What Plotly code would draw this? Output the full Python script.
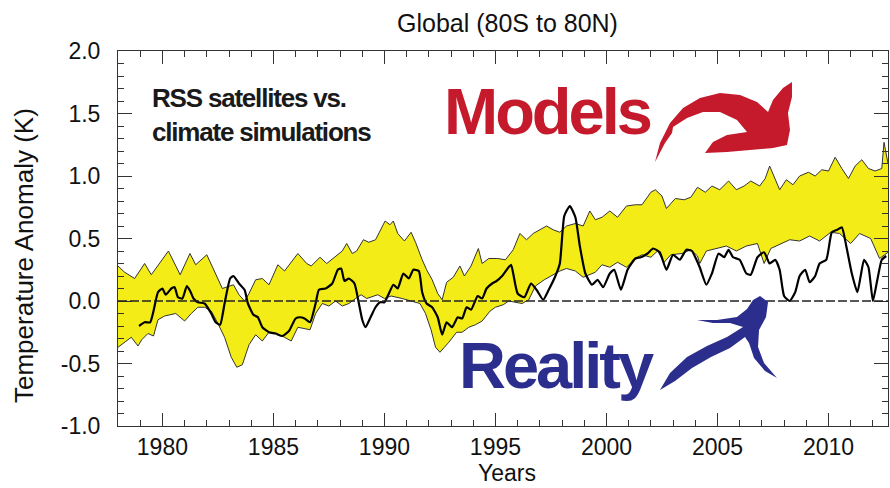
import plotly.graph_objects as go

# ---------------- data ----------------
upper_years = [1978.0, 1978.3, 1978.75, 1979.2, 1979.5, 1980.27, 1980.8, 1981.24, 1981.5, 1982.0,
               1982.7, 1983.2, 1983.45, 1983.7, 1983.9, 1984.2, 1984.5, 1984.8, 1985.2, 1985.5,
               1986.1, 1986.5, 1986.7, 1987.1, 1987.4, 1987.7, 1988.1, 1988.3, 1988.55, 1988.75,
               1989.05, 1989.3, 1989.6, 1989.8, 1990.03, 1990.25, 1990.4, 1990.6, 1990.9, 1991.2,
               1991.4, 1991.7, 1991.9, 1992.15, 1992.4, 1992.6, 1992.8, 1993.1, 1993.4, 1993.6,
               1993.9, 1994.23, 1994.4, 1994.7, 1995.1, 1995.45, 1995.8, 1996.1, 1996.4, 1996.7,
               1997.0, 1997.3, 1997.6, 1997.9, 1998.2, 1998.6, 1998.95, 1999.25, 1999.5, 1999.8,
               2000.15, 2000.5, 2000.9, 2001.3, 2001.6, 2002.0, 2002.2, 2002.5, 2002.7, 2003.1,
               2003.5, 2003.8, 2004.1, 2004.45, 2004.75, 2005.1, 2005.5, 2005.85, 2006.2, 2006.5,
               2006.9, 2007.15, 2007.35, 2007.6, 2007.8, 2008.1, 2008.4, 2008.7, 2009.1, 2009.4,
               2009.7, 2010.0, 2010.3, 2010.6, 2010.9, 2011.2, 2011.5, 2011.8, 2012.1, 2012.4,
               2012.5, 2012.68]
upper_vals = [0.28, 0.23, 0.18, 0.30, 0.21, 0.40, 0.21, 0.38, 0.29, 0.37,
              0.10, 0.13, 0.05, 0.00, 0.06, 0.17, 0.18, 0.13, 0.29, 0.24,
              0.38, 0.30, 0.28, 0.35, 0.30, 0.34, 0.40, 0.46, 0.38, 0.40,
              0.49, 0.47, 0.49, 0.56, 0.64, 0.61, 0.64, 0.54, 0.48, 0.55,
              0.47, 0.33, 0.25, 0.17, 0.06, 0.01, 0.15, 0.19, 0.28, 0.20,
              0.28, 0.42, 0.30, 0.34, 0.34, 0.33, 0.41, 0.54, 0.49, 0.54,
              0.57, 0.60, 0.57, 0.55, 0.60, 0.62, 0.60, 0.72, 0.65, 0.67,
              0.72, 0.67, 0.76, 0.77, 0.77, 0.87, 0.89, 0.84, 0.74, 0.82,
              0.81, 0.83, 0.91, 0.87, 0.92, 0.89, 0.96, 0.89, 0.92, 0.96,
              0.92, 0.98, 1.08, 0.98, 0.89, 0.97, 0.93, 1.00, 1.03, 1.00,
              1.05, 1.04, 1.15, 1.06, 0.98, 1.08, 1.13, 1.06, 1.04, 1.06,
              1.27, 1.10]

lower_years = [1978.0, 1978.3, 1978.6, 1978.9, 1979.07, 1979.35, 1979.6, 1979.8, 1980.1, 1980.6,
               1981.0, 1981.3, 1981.6, 1981.9, 1982.2, 1982.5, 1982.8, 1983.1, 1983.35, 1983.6,
               1983.9, 1984.2, 1984.5, 1984.8, 1985.1, 1985.5, 1985.8, 1986.1, 1986.4, 1986.65,
               1986.9, 1987.2, 1987.5, 1987.8, 1988.1, 1988.4, 1988.7, 1988.95, 1989.2, 1989.7,
               1990.0, 1990.3, 1990.8, 1991.2, 1991.6, 1991.85, 1992.1, 1992.3, 1992.5, 1992.7,
               1992.9, 1993.25, 1993.5, 1993.8, 1994.1, 1994.4, 1994.76, 1995.0, 1995.35, 1995.6,
               1996.2, 1996.5, 1996.8, 1997.2, 1997.6, 1997.9, 1998.2, 1998.6, 1998.95, 1999.5,
               1999.8, 2000.15, 2000.5, 2000.9, 2001.3, 2001.6, 2002.0, 2002.3, 2002.6, 2002.9,
               2003.4, 2003.8, 2004.1, 2004.2, 2004.5, 2005.0, 2005.4, 2005.85, 2006.3, 2006.8,
               2007.1, 2007.4, 2007.8, 2008.25, 2008.7, 2009.15, 2009.6, 2010.1, 2010.5, 2011.0,
               2011.4, 2011.9, 2012.3, 2012.68]
lower_vals = [-0.37, -0.33, -0.29, -0.36, -0.31, -0.26, -0.28, -0.15, -0.12, -0.10,
              -0.16, -0.10, -0.05, -0.05, -0.08, -0.18, -0.29, -0.45, -0.53, -0.51,
              -0.35, -0.27, -0.32, -0.25, -0.26, -0.29, -0.32, -0.21, -0.22, -0.23,
              -0.10, -0.02, -0.04, 0.00, -0.04, -0.02, 0.02, 0.05, 0.02, 0.05,
              0.02, 0.04, 0.02, 0.00, -0.02, -0.10, -0.23, -0.37, -0.41, -0.37,
              -0.33, -0.25, -0.25, -0.21, -0.19, -0.16, -0.08, -0.05, -0.03, 0.00,
              -0.02, 0.01, 0.12, 0.17, 0.21, 0.24, 0.26, 0.24, 0.19, 0.23,
              0.29, 0.27, 0.31, 0.27, 0.34, 0.37, 0.35, 0.40, 0.31, 0.37,
              0.38, 0.41, 0.36, 0.30, 0.40, 0.42, 0.44, 0.40, 0.44, 0.46,
              0.30, 0.42, 0.45, 0.49, 0.48, 0.52, 0.48, 0.55, 0.54, 0.46,
              0.54, 0.50, 0.34, 0.39]

rss_years = [1978.95, 1979.2, 1979.45, 1979.6, 1979.8, 1980.0, 1980.15, 1980.4, 1980.55, 1980.7,
             1980.9, 1981.1, 1981.25, 1981.4, 1981.6, 1981.9, 1982.2, 1982.4, 1982.6, 1982.8,
             1983.05, 1983.2, 1983.45, 1983.7, 1983.85, 1984.1, 1984.3, 1984.5, 1984.8, 1985.1,
             1985.4, 1985.7, 1986.0, 1986.2, 1986.4, 1986.65, 1986.9, 1987.05, 1987.35, 1987.65,
             1987.9, 1988.05, 1988.2, 1988.4, 1988.65, 1988.85, 1989.0, 1989.15, 1989.4, 1989.6,
             1989.8, 1990.0, 1990.2, 1990.4, 1990.6, 1990.85, 1991.1, 1991.3, 1991.55, 1991.7,
             1991.9, 1992.15, 1992.4, 1992.6, 1992.8, 1993.05, 1993.3, 1993.5, 1993.7, 1993.9,
             1994.2, 1994.4, 1994.6, 1994.85, 1995.05, 1995.3, 1995.7, 1995.8, 1996.0, 1996.3,
             1996.6, 1996.85, 1997.15, 1997.4, 1997.7, 1997.9, 1998.1, 1998.35, 1998.6, 1998.8,
             1999.05, 1999.35, 1999.6, 1999.85, 2000.15, 2000.35, 2000.65, 2000.95, 2001.3, 2001.55,
             2001.85, 2002.1, 2002.4, 2002.7, 2003.0, 2003.3, 2003.6, 2003.85, 2004.0, 2004.2,
             2004.5, 2004.75, 2005.05, 2005.3, 2005.5, 2005.7, 2006.0, 2006.3, 2006.5, 2006.8,
             2007.1, 2007.35, 2007.6, 2007.8, 2008.0, 2008.25, 2008.5, 2008.7, 2008.95, 2009.15,
             2009.4, 2009.6, 2009.9, 2010.15, 2010.4, 2010.6, 2010.8, 2011.05, 2011.3, 2011.45,
             2011.6, 2011.8, 2012.0, 2012.2, 2012.4, 2012.6]
rss_vals = [-0.20, -0.17, -0.17, -0.08, 0.07, 0.10, 0.05, 0.10, 0.11, 0.03,
            0.02, 0.12, 0.08, 0.02, -0.01, -0.02, -0.10, -0.17, -0.19, -0.02,
            0.18, 0.20, 0.14, 0.09, -0.02, -0.11, -0.13, -0.21, -0.25, -0.26,
            -0.28, -0.24, -0.14, -0.13, -0.14, -0.17, -0.02, 0.09, 0.10, 0.14,
            0.25, 0.26, 0.16, 0.18, 0.14, -0.02, -0.15, -0.21, -0.12, -0.05,
            -0.01, -0.01, 0.06, 0.13, 0.10, 0.22, 0.18, 0.25, 0.24, 0.07,
            -0.02, -0.05, -0.13, -0.27, -0.17, -0.21, -0.13, -0.14, -0.05, -0.07,
            0.04, 0.02, 0.10, 0.14, 0.16, 0.20, 0.29, 0.22, 0.06, 0.03,
            0.14, 0.09, 0.01, 0.09, 0.20, 0.30, 0.68, 0.76, 0.67, 0.44,
            0.22, 0.13, 0.17, 0.11, 0.22, 0.25, 0.09, 0.25, 0.34, 0.35,
            0.38, 0.42, 0.39, 0.25, 0.37, 0.33, 0.41, 0.40, 0.35, 0.27,
            0.13, 0.22, 0.38, 0.35, 0.41, 0.35, 0.33, 0.22, 0.21, 0.35,
            0.39, 0.30, 0.33, 0.25, 0.04, 0.00, 0.07, 0.20, 0.25, 0.15,
            0.20, 0.30, 0.33, 0.55, 0.57, 0.59, 0.44, 0.22, 0.07, 0.20,
            0.33, 0.27, 0.00, 0.17, 0.33, 0.36]

x_tick_vals = [1980, 1985, 1990, 1995, 2000, 2005, 2010]
x_tick_text = ["1980", "1985", "1990", "1995", "2000", "2005", "2010"]
y_tick_vals = [-1.0, -0.5, 0.0, 0.5, 1.0, 1.5, 2.0]
y_tick_text = ["-1.0", "-0.5", "0.0", "0.5", "1.0", "1.5", "2.0"]

# ---------------- layout geometry ----------------
W, H = 890, 488
L, R, T, B = 118, 2, 51, 62
PW, PH = W - L - R, H - T - B

def pp(px, py):
    return (px - L) / PW, (H - B - py) / PH

def path_from(points):
    parts = []
    for i, (a, b) in enumerate(points):
        x, y = pp(a, b)
        parts.append(("M" if i == 0 else "L") + f"{x:.4f},{y:.4f}")
    return " ".join(parts) + " Z"

red_arrow = [(655, 162), (660, 143), (670, 123), (683, 108), (700, 98), (720, 93), (740, 95),
             (757, 102), (768, 112), (773, 100), (783, 88), (792, 82), (792, 97), (788, 113),
             (790, 130), (787, 145), (773, 148), (750, 150), (727, 152), (705, 153), (713, 142),
             (727, 135), (747, 132), (737, 120), (720, 112), (703, 112), (687, 118), (673, 127),
             (672, 133), (665, 143)]
blue_arrow = [(660, 390), (670, 373), (687, 357), (707, 346), (727, 337), (743, 327), (730, 323),
              (713, 323), (697, 320), (717, 320), (737, 317), (747, 309), (753, 300), (760, 296),
              (768, 302), (766, 317), (759, 330), (758, 347), (764, 363), (777, 378), (765, 371),
              (754, 358), (749, 343), (745, 337), (730, 348), (711, 357), (692, 368), (675, 381)]

YELLOW = "#f4ec16"
EDGE = "#333333"
RED = "#c41a2c"
BLUE = "#2b2e8c"
FONT = "Liberation Sans, Arial, Helvetica, sans-serif"

fig = go.Figure()
fig.add_trace(go.Scatter(x=upper_years + lower_years[::-1], y=upper_vals + lower_vals[::-1],
                         fill="toself", fillcolor=YELLOW, line=dict(width=0), mode="lines",
                         hoverinfo="skip", showlegend=False))
fig.add_trace(go.Scatter(x=upper_years, y=upper_vals, mode="lines",
                         line=dict(color=EDGE, width=1), showlegend=False))
fig.add_trace(go.Scatter(x=lower_years, y=lower_vals, mode="lines",
                         line=dict(color=EDGE, width=1), showlegend=False))
fig.add_trace(go.Scatter(x=rss_years, y=rss_vals, mode="lines",
                         line=dict(color="black", width=2.2, shape="spline", smoothing=0.5),
                         showlegend=False))

fig.add_shape(type="line", xref="paper", x0=0, x1=1, yref="y", y0=0, y1=0,
              line=dict(color="#222222", width=1.4, dash="9px,3px"))
fig.add_shape(type="path", xref="paper", yref="paper", path=path_from(red_arrow),
              fillcolor=RED, line=dict(width=0), layer="above")
fig.add_shape(type="path", xref="paper", yref="paper", path=path_from(blue_arrow),
              fillcolor=BLUE, line=dict(width=0), layer="above")

def ann(text, px, py, size, color="#111111", xanchor="center", yanchor="middle",
        angle=0, align="center", weight="normal"):
    x, y = pp(px, py)
    fig.add_annotation(text=text, x=x, y=y, xref="paper", yref="paper", showarrow=False,
                       xanchor=xanchor, yanchor=yanchor, textangle=angle, align=align,
                       font=dict(family=FONT, size=size, color=color, weight=weight))

ann("Global (80S to 80N)", 508, 23, 25)
ann("Temperature Anomaly (K)", 24, 256, 26, angle=-90)
ann("Years", 507, 488, 23, yanchor="bottom")
ann("<span style='letter-spacing:-1.2px'>RSS satellites vs.<br>climate simulations</span>",
    150, 81, 26, color="#1a1a1a", xanchor="left", yanchor="top", align="left", weight="bold")
ann("<span style='letter-spacing:-3px'>Models</span>", 442, 73, 65, color=RED,
    xanchor="left", yanchor="top", weight="bold")
ann("<span style='letter-spacing:-3px'>Reality</span>", 457, 327, 65, color=BLUE,
    xanchor="left", yanchor="top", weight="bold")

axis_common = dict(showline=True, linecolor=EDGE, linewidth=1, mirror="ticks", ticks="inside",
                   tickcolor=EDGE, tickwidth=1, showgrid=False, zeroline=False, automargin=False,
                   tickfont=dict(family=FONT, size=23, color="#111111"))
fig.update_xaxes(range=[1978, 2012.68], tickvals=x_tick_vals, ticktext=x_tick_text, ticklen=13,
                 minor=dict(ticks="inside", dtick=1, tick0=1978, ticklen=6, tickcolor=EDGE),
                 ticklabelstandoff=0, **axis_common)
fig.update_yaxes(range=[-1, 2], tickvals=y_tick_vals, ticktext=y_tick_text, ticklen=14,
                 minor=dict(ticks="inside", dtick=0.1, tick0=0, ticklen=6, tickcolor=EDGE),
                 ticklabelstandoff=12, **axis_common)

fig.update_layout(width=W, height=H, autosize=False, margin=dict(l=L, r=R, t=T, b=B),
                  plot_bgcolor="white", paper_bgcolor="white", showlegend=False)

fig.write_html("out.html", config={"displayModeBar": False},
               post_script="document.body.style.margin='0';")
